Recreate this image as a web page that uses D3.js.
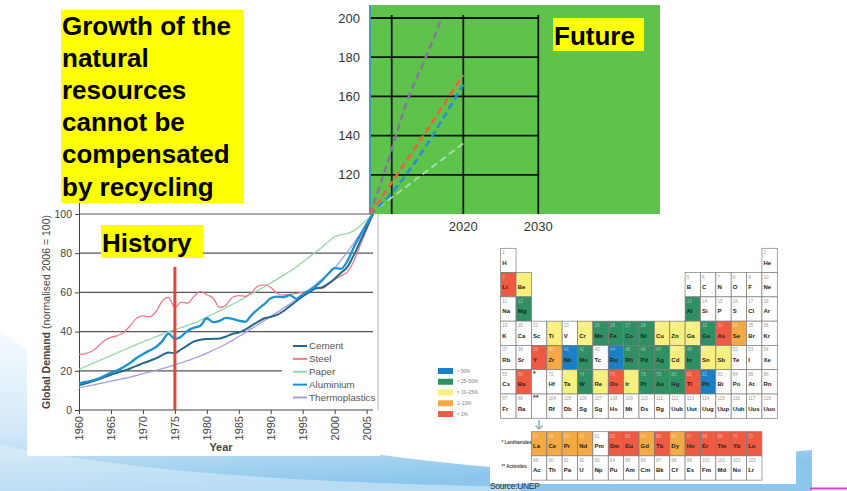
<!DOCTYPE html>
<html>
<head>
<meta charset="utf-8">
<script src="https://cdn.jsdelivr.net/npm/d3@7"></script>
<style>
  html, body { margin: 0; padding: 0; background: #fff; overflow: hidden; }
  svg { display: block; font-family: "Liberation Sans", Arial, sans-serif; }
</style>
</head>
<body>
<svg id="slide" width="847" height="491"></svg>
<script>
// ---------- Data ----------
const headline = ["Growth of the", "natural", "resources", "cannot be", "compensated", "by recycling"];

// Global demand, normalised 2006 = 100
const years = d3.range(1960, 2007);
const cement = [12.8,13.5,14.5,15.5,16.8,18,19,20,21.2,22.5,23.9,25,26.3,28,29.3,29,31,33,35,35.8,36.2,36.3,36.5,37.5,38.8,39.5,41,43,45,46.8,47.5,48.5,50.5,53,55.5,58,60,62,62.5,64.5,67,70,73,79,86,93,100];
const steel = [28.4,28.8,30,32.5,35.5,37,38,39.5,43,46.8,48,47.5,50,55.5,57.5,52.3,55,54.5,58,60.5,58.8,57,52.3,53.5,57.5,58.4,58,60,63.2,63.8,62.5,59.6,58.6,59,59.5,60,61,62.5,62,64,66.5,68.5,70.5,76,84,92,100];
const paper = [20.8,22.2,23.6,25,26.4,27.8,29.2,30.6,32,33.4,34.8,36,37.3,38.6,40,40.9,42,43.2,44.4,45.8,47.4,49,50.6,52.2,53.9,55.6,57.4,59.2,61,62.9,64.8,66.8,68.8,70.8,73,75.5,78,80.5,83,85.8,88.3,89.5,90,91.5,94,97,100];
const aluminium = [13.6,14.3,15,16,17.5,19,20.3,22,24,26.5,28.5,30.3,32,35,39,36.3,37.5,40.5,42,43,46.8,44.8,45.5,47,46.5,45.6,45,48.5,51.5,54,57,57.8,57.6,58.6,56.8,59,61,63,66,69.5,72.4,72,76,83,89,95,100];
const thermoplastics = [11.4,12,12.6,13.3,14,14.7,15.4,16.1,16.8,17.6,18.5,19.3,20.2,21.1,22,23,24.1,25.2,26.4,27.6,29,30.5,32,33.7,35.5,37.5,39.5,41.5,43.5,45.6,47.7,49.8,52,54.2,56.5,58.8,61.4,64,66.7,69.5,72.4,76.5,80.7,85.2,90,95,100];
const seriesNames = ["Cement", "Steel", "Paper", "Aluminium", "Thermoplastics"];

const historyTicksY = [0, 20, 40, 60, 80, 100];
const historyTicksX = [1960, 1965, 1970, 1975, 1980, 1985, 1990, 1995, 2000, 2005];
const markerYear = 1975;
const markerTop = 73;

// Projected demand
const futureThermo = [[2006,100],[2008,116],[2010,133],[2012,156],[2015,182],[2017,200]];
const futureSteel  = [[2006,100],[2008,108],[2020,171]];
const futureAlu    = [[2006,100],[2008,105],[2020,166]];
const futurePaper  = [[2006,100],[2020,136]];
const futureTicksY = [120, 140, 160, 180, 200];
const futureGridX = [2010, 2020, 2030];
const futureLabelsX = [2020, 2030];

// Periodic table: [number, symbol, period, group, recycling share class]
const mainElements = [
  [1,"H",1,1,"w"],[2,"He",1,18,"w"],
  [3,"Li",2,1,"r"],[4,"Be",2,2,"y"],[5,"B",2,13,"w"],[6,"C",2,14,"w"],[7,"N",2,15,"w"],[8,"O",2,16,"w"],[9,"F",2,17,"w"],[10,"Ne",2,18,"w"],
  [11,"Na",3,1,"w"],[12,"Mg",3,2,"g"],[13,"Al",3,13,"g"],[14,"Si",3,14,"w"],[15,"P",3,15,"w"],[16,"S",3,16,"w"],[17,"Cl",3,17,"w"],[18,"Ar",3,18,"w"],
  [19,"K",4,1,"w"],[20,"Ca",4,2,"w"],[21,"Sc",4,3,"w"],[22,"Ti",4,4,"y"],[23,"V",4,5,"w"],[24,"Cr",4,6,"y"],[25,"Mn",4,7,"g"],[26,"Fe",4,8,"g"],[27,"Co",4,9,"g"],[28,"Ni",4,10,"g"],[29,"Cu",4,11,"y"],[30,"Zn",4,12,"y"],[31,"Ga",4,13,"y"],[32,"Ge",4,14,"g"],[33,"As",4,15,"r"],[34,"Se",4,16,"o"],[35,"Br",4,17,"w"],[36,"Kr",4,18,"w"],
  [37,"Rb",5,1,"w"],[38,"Sr",5,2,"w"],[39,"Y",5,3,"r"],[40,"Zr",5,4,"o"],[41,"Nb",5,5,"b"],[42,"Mo",5,6,"g"],[43,"Tc",5,7,"w"],[44,"Ru",5,8,"b"],[45,"Rh",5,9,"g"],[46,"Pd",5,10,"g"],[47,"Ag",5,11,"g"],[48,"Cd",5,12,"y"],[49,"In",5,13,"g"],[50,"Sn",5,14,"y"],[51,"Sb",5,15,"y"],[52,"Te",5,16,"w"],[53,"I",5,17,"w"],[54,"Xe",5,18,"w"],
  [55,"Cs",6,1,"w"],[56,"Ba",6,2,"r"],["*","",6,3,"w"],[72,"Hf",6,4,"w"],[73,"Ta",6,5,"y"],[74,"W",6,6,"g"],[75,"Re",6,7,"y"],[76,"Os",6,8,"r"],[77,"Ir",6,9,"y"],[78,"Pt",6,10,"g"],[79,"Au",6,11,"g"],[80,"Hg",6,12,"g"],[81,"Tl",6,13,"r"],[82,"Pb",6,14,"b"],[83,"Bi",6,15,"w"],[84,"Po",6,16,"w"],[85,"At",6,17,"w"],[86,"Rn",6,18,"w"],
  [87,"Fr",7,1,"w"],[88,"Ra",7,2,"w"],["**","",7,3,"w"],[104,"Rf",7,4,"w"],[105,"Db",7,5,"w"],[106,"Sg",7,6,"w"],[107,"Sg",7,7,"w"],[108,"Hs",7,8,"w"],[109,"Mt",7,9,"w"],[110,"Ds",7,10,"w"],[111,"Rg",7,11,"w"],[112,"Uub",7,12,"w"],[113,"Uut",7,13,"w"],[114,"Uug",7,14,"w"],[115,"Uup",7,15,"w"],[116,"Uuh",7,16,"w"],[117,"Uus",7,17,"w"],[118,"Uuo",7,18,"w"]
];
const lanthanides = [[57,"La","o"],[58,"Ce","o"],[59,"Pr","o"],[60,"Nd","o"],[61,"Pm","w"],[62,"Sm","r"],[63,"Eu","r"],[64,"Gd","o"],[65,"Tb","r"],[66,"Dy","o"],[67,"Ho","r"],[68,"Er","r"],[69,"Tm","r"],[70,"Yb","r"],[71,"Lu","r"]];
const actinides = [[89,"Ac","w"],[90,"Th","w"],[91,"Pa","w"],[92,"U","w"],[93,"Np","w"],[94,"Pu","w"],[95,"Am","w"],[96,"Cm","w"],[97,"Bk","w"],[98,"Cf","w"],[99,"Es","w"],[100,"Fm","w"],[101,"Md","w"],[102,"No","w"],[103,"Lr","w"]];
const shareClasses = ["b", "g", "y", "o", "r"];
const shareLabels = ["> 50%", "> 25–50%", "> 10–25%", "1–10%", "< 1%"];

// ---------- Drawing ----------
const svg = d3.select("#slide");
const defs = svg.append("defs");

// slide background swoosh
const grad = defs.append("linearGradient").attr("id", "swoosh").attr("x1", 0).attr("y1", 0).attr("x2", 0.25).attr("y2", 1);
grad.append("stop").attr("offset", 0).attr("stop-color", "#f7fbfe");
grad.append("stop").attr("offset", 0.6).attr("stop-color", "#d2e9f8");
grad.append("stop").attr("offset", 1).attr("stop-color", "#8cc6ec");
svg.append("rect").attr("width", 847).attr("height", 491).attr("fill", "#fff");
svg.append("path")
  .attr("d", "M0,330 C110,415 320,458 560,472 L812,450 L812,491 L0,491 Z")
  .attr("fill", "url(#swoosh)");
svg.append("path")
  .attr("d", "M0,445 C150,474 300,482 520,487 L520,491 L0,491 Z")
  .attr("fill", "#eef7fd").attr("opacity", 0.45);

// white panels
svg.append("rect").attr("x", 27).attr("y", 205).attr("width", 353).attr("height", 251).attr("fill", "#fff");
svg.append("rect").attr("x", 490).attr("y", 232).attr("width", 306).attr("height", 252).attr("fill", "#fff");

// magenta accent
svg.append("line").attr("x1", 810).attr("x2", 847).attr("y1", 488.5).attr("y2", 488.5)
  .attr("stroke", "#e040c8").attr("stroke-width", 2);

// ---- history chart ----
const xH = d3.scaleLinear().domain([1960, 2006]).range([79, 373]);
const yV = d3.scaleLinear().domain([0, 200]).range([410, 18]);
const gH = svg.append("g");

// grid
gH.selectAll("line.grid").data(historyTicksY.filter(d => d > 0)).join("line")
  .attr("x1", xH(1960))
  .attr("x2", d => d === 20 ? 282 : xH(2006))
  .attr("y1", d => yV(d)).attr("y2", d => yV(d))
  .attr("stroke", "#555").attr("stroke-width", 1.2);
gH.append("line").attr("x1", 378).attr("x2", 378).attr("y1", yV(100)).attr("y2", yV(0))
  .attr("stroke", "#999").attr("stroke-width", 0.7);

// axes
const axY = d3.axisLeft(yV).tickValues(historyTicksY).tickSize(4).tickPadding(3);
gH.append("g").attr("transform", `translate(${xH(1960)},0)`).call(axY)
  .call(g => g.select(".domain").attr("stroke", "#444"))
  .call(g => g.selectAll(".tick line").attr("stroke", "#444"))
  .call(g => g.selectAll("text").attr("font-size", 10.5).attr("fill", "#444").attr("font-family", "Liberation Sans, Arial"));
const axX = d3.axisBottom(xH).tickValues(historyTicksX).tickSize(4).tickFormat(d3.format("d"));
gH.append("g").attr("transform", `translate(0,${yV(0)})`).call(axX)
  .call(g => g.select(".domain").attr("stroke", "#444").attr("d", `M${xH(1960)},0H${xH(2006)}`))
  .call(g => g.selectAll(".tick line").attr("stroke", "#444"))
  .call(g => g.selectAll("text")
    .attr("font-size", 11).attr("fill", "#444").attr("font-family", "Liberation Sans, Arial")
    .attr("text-anchor", "end").attr("transform", "rotate(-90)")
    .attr("x", -6).attr("y", 0).attr("dy", "0.35em"));

gH.append("text").attr("x", 221).attr("y", 451).attr("text-anchor", "middle")
  .attr("font-size", 11).attr("font-weight", "bold").attr("fill", "#444").text("Year");
const yTitle = gH.append("text").attr("transform", `translate(50,${(yV(0) + yV(100)) / 2}) rotate(-90)`)
  .attr("text-anchor", "middle").attr("font-size", 10.5).attr("fill", "#444");
yTitle.append("tspan").attr("font-weight", "bold").text("Global Demand ");
yTitle.append("tspan").text("(normalised 2006 = 100)");

// lines
const histSeries = [
  { name: "Cement", values: cement, color: "#24698c", width: 2 },
  { name: "Steel", values: steel, color: "#f07a86", width: 1.3 },
  { name: "Paper", values: paper, color: "#93d9a6", width: 1.3 },
  { name: "Aluminium", values: aluminium, color: "#1d92d2", width: 2.3 },
  { name: "Thermoplastics", values: thermoplastics, color: "#a99ede", width: 1.3 }
];
const drawOrder = [4, 2, 1, 0, 3];
const lineH = d3.line().x((d, i) => xH(years[i])).y(d => yV(d)).curve(d3.curveMonotoneX);
gH.selectAll("path.series").data(drawOrder.map(i => histSeries[i])).join("path")
  .attr("d", s => lineH(s.values)).attr("fill", "none")
  .attr("stroke", s => s.color).attr("stroke-width", s => s.width);

// 1975 marker
gH.append("line").attr("x1", xH(markerYear)).attr("x2", xH(markerYear))
  .attr("y1", yV(markerTop)).attr("y2", yV(0))
  .attr("stroke", "#e8443a").attr("stroke-width", 3);

// legend
const leg = gH.append("g");
const legY = d3.scalePoint().domain(seriesNames).range([346, 397.5]);
leg.selectAll("line").data(histSeries).join("line")
  .attr("x1", 293).attr("x2", 307).attr("y1", d => legY(d.name)).attr("y2", d => legY(d.name))
  .attr("stroke", d => d.color).attr("stroke-width", 2);
leg.selectAll("text").data(histSeries).join("text")
  .attr("x", 309).attr("y", d => legY(d.name)).attr("dy", "0.35em")
  .attr("font-size", 9.8).attr("fill", "#555").text(d => d.name);

// ---- future chart ----
const xF = d3.scaleLinear().domain([2006, 2010, 2020, 2030]).range([370, 391.7, 463.3, 538.3]);
const gF = svg.append("g");
gF.append("rect").attr("x", 370).attr("y", 5).attr("width", 290).attr("height", yV(100) - 5).attr("fill", "#5dc34b");
gF.selectAll("line.h").data(futureTicksY).join("line")
  .attr("x1", 370).attr("x2", xF(2030)).attr("y1", d => yV(d)).attr("y2", d => yV(d))
  .attr("stroke", "#111").attr("stroke-width", 1.8);
gF.selectAll("line.v").data(futureGridX).join("line")
  .attr("x1", d => xF(d)).attr("x2", d => xF(d)).attr("y1", 15).attr("y2", yV(100))
  .attr("stroke", "#111").attr("stroke-width", 1.8);
gF.append("line").attr("x1", 370).attr("x2", 370).attr("y1", 5).attr("y2", yV(100))
  .attr("stroke", "#3a9fb0").attr("stroke-width", 2);
gF.selectAll("text.yl").data(futureTicksY).join("text")
  .attr("x", 360).attr("y", d => yV(d)).attr("dy", "0.35em").attr("text-anchor", "end")
  .attr("font-size", 13).attr("fill", "#333").text(d => d);
gF.selectAll("text.xl").data(futureLabelsX).join("text")
  .attr("x", d => xF(d)).attr("y", 231).attr("text-anchor", "middle")
  .attr("font-size", 13).attr("fill", "#333").text(d => d);

const lineF = d3.line().x(d => xF(d[0])).y(d => yV(d[1])).curve(d3.curveMonotoneX);
const futureSeries = [
  { values: futurePaper, color: "#a9dfb6", width: 1.8 },
  { values: futureThermo, color: "#8a72a6", width: 2.4 },
  { values: futureAlu, color: "#2a8fd2", width: 2.6 },
  { values: futureSteel, color: "#ea633e", width: 2.6 }
];
gF.selectAll("path.f").data(futureSeries).join("path")
  .attr("d", s => lineF(s.values)).attr("fill", "none")
  .attr("stroke", s => s.color).attr("stroke-width", s => s.width).attr("stroke-dasharray", "7,4");

// ---- periodic table ----
const shareColor = { b: "#1b7fc6", g: "#2f9163", y: "#f7f07e", o: "#f4aa44", r: "#ef5a43", w: "#ffffff" };
const gP = svg.append("g");
const colX = d3.scaleBand().domain(d3.range(1, 19)).range([500.7, 777.3]);
const rowY = d3.scaleBand().domain(d3.range(1, 8)).range([248.3, 418.3]);
const fRowY = d3.scaleBand().domain(["L", "A"]).range([431.7, 480]);

function drawCells(sel) {
  sel.append("rect")
    .attr("width", colX.bandwidth()).attr("height", rowY.bandwidth())
    .attr("fill", d => shareColor[d.cat]).attr("stroke", "#7b7b7b").attr("stroke-width", 0.7);
  sel.append("text").attr("x", 1.6).attr("y", 6)
    .attr("font-size", d => typeof d.num === "string" ? 7 : 4.6)
    .attr("font-weight", d => typeof d.num === "string" ? "bold" : "normal")
    .attr("fill", d => typeof d.num === "string" ? "#333" : (d.cat === "w" ? "#9a9a9a" : "#ffffff"))
    .attr("fill-opacity", d => d.cat === "w" ? 1 : 0.5)
    .text(d => d.num);
  sel.append("text").attr("x", 1.6).attr("y", 16.5)
    .attr("font-size", 6).attr("font-weight", "bold").attr("fill", "#222")
    .text(d => d.sym);
}
const mainCells = mainElements.map(e => ({ num: e[0], sym: e[1], x: colX(e[3]), y: rowY(e[2]), cat: e[4] }));
const fCells = lanthanides.map((e, i) => ({ num: e[0], sym: e[1], x: colX(i + 3), y: fRowY("L"), cat: e[2] }))
  .concat(actinides.map((e, i) => ({ num: e[0], sym: e[1], x: colX(i + 3), y: fRowY("A"), cat: e[2] })));
gP.selectAll("g.cell").data(mainCells.concat(fCells)).join("g")
  .attr("transform", d => `translate(${d.x},${d.y})`).call(drawCells);

gP.append("text").attr("x", 501.5).attr("y", 443.5).attr("font-size", 4.6).attr("font-weight", "bold").attr("fill", "#444").text("* Lanthanides");
gP.append("text").attr("x", 501.5).attr("y", 467.5).attr("font-size", 4.6).attr("font-weight", "bold").attr("fill", "#444").text("** Actinides");
gP.append("path").attr("d", "M539,420 V428.5 M535.5,425.5 L539,429 L542.5,425.5")
  .attr("fill", "none").attr("stroke", "#8eb2d2").attr("stroke-width", 1.6);
gP.append("text").attr("x", 490).attr("y", 489).attr("font-size", 8.5).attr("fill", "#333").attr("letter-spacing", -0.3).text("Source:UNEP");

// share legend
const legP = d3.scalePoint().domain(shareClasses).range([371, 414]);
gP.selectAll("rect.sw").data(shareClasses).join("rect")
  .attr("x", 438).attr("y", d => legP(d) - 3).attr("width", 15).attr("height", 6)
  .attr("fill", d => shareColor[d]);
gP.selectAll("text.sw").data(shareClasses).join("text")
  .attr("x", 457).attr("y", d => legP(d)).attr("dy", "0.35em")
  .attr("font-size", 4.6).attr("fill", "#777").text((d, i) => shareLabels[i]);

// ---- callout boxes ----
const callouts = svg.append("g").attr("font-weight", "bold").attr("font-size", 26).attr("fill", "#000");
callouts.append("rect").attr("x", 61).attr("y", 10).attr("width", 183).attr("height", 193).attr("fill", "#ffff00");
callouts.selectAll("text.h").data(headline).join("text")
  .attr("x", 62).attr("y", (d, i) => 35 + i * 32.1).text(d => d);
callouts.append("rect").attr("x", 553).attr("y", 18).attr("width", 91).attr("height", 33).attr("fill", "#ffff00");
callouts.append("text").attr("x", 554).attr("y", 45).text("Future");
callouts.append("rect").attr("x", 101).attr("y", 225).attr("width", 102).attr("height", 33).attr("fill", "#ffff00");
callouts.append("text").attr("x", 102).attr("y", 251.5).text("History");
</script>
</body>
</html>
